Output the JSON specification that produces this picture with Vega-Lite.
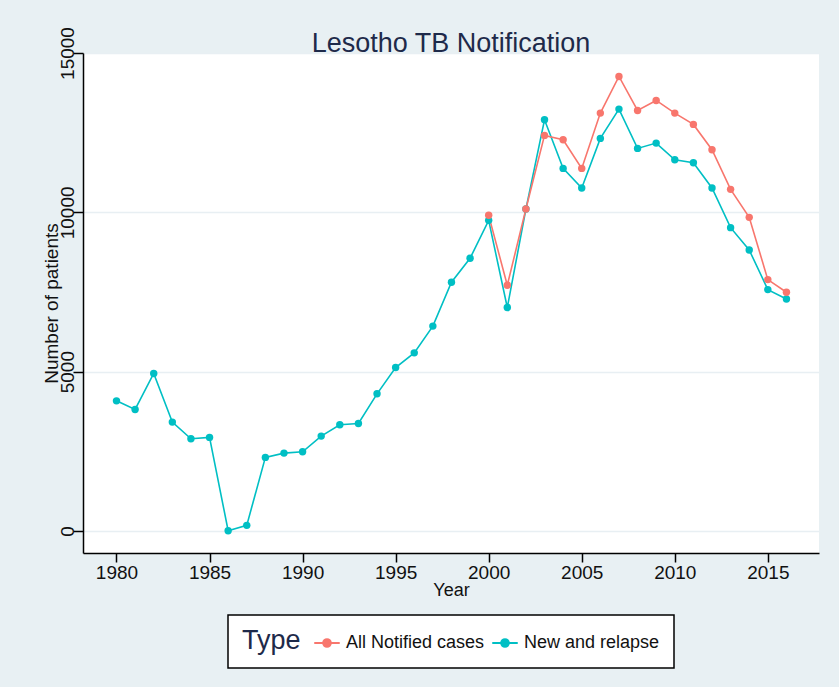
{
  "$schema": "https://vega.github.io/schema/vega-lite/v6.json",
  "autosize": {"type": "none"},
  "padding": {"left": 83, "top": 53, "right": 20, "bottom": 134},
  "width": 736,
  "height": 500,
  "background": "#e8f0f3",
  "title": {"text": "Lesotho TB Notification", "fontSize": 27, "font": "Liberation Sans", "fontWeight": "normal", "color": "#1e2a4a", "anchor": "middle", "baseline": "alphabetic", "frame": "group", "offset": -52},
  "config": {
    "view": {"fill": "white", "stroke": null},
    "font": "Liberation Sans"
  },
  "data": {"values": [
    {"Year": 1980, "Type": "New and relapse", "Patients": 4085},
    {"Year": 1981, "Type": "New and relapse", "Patients": 3815},
    {"Year": 1982, "Type": "New and relapse", "Patients": 4944},
    {"Year": 1983, "Type": "New and relapse", "Patients": 3417},
    {"Year": 1984, "Type": "New and relapse", "Patients": 2894},
    {"Year": 1985, "Type": "New and relapse", "Patients": 2937},
    {"Year": 1986, "Type": "New and relapse", "Patients": 10},
    {"Year": 1987, "Type": "New and relapse", "Patients": 178},
    {"Year": 1988, "Type": "New and relapse", "Patients": 2310},
    {"Year": 1989, "Type": "New and relapse", "Patients": 2445},
    {"Year": 1990, "Type": "New and relapse", "Patients": 2487},
    {"Year": 1991, "Type": "New and relapse", "Patients": 2978},
    {"Year": 1992, "Type": "New and relapse", "Patients": 3333},
    {"Year": 1993, "Type": "New and relapse", "Patients": 3375},
    {"Year": 1994, "Type": "New and relapse", "Patients": 4305},
    {"Year": 1995, "Type": "New and relapse", "Patients": 5131},
    {"Year": 1996, "Type": "New and relapse", "Patients": 5591},
    {"Year": 1997, "Type": "New and relapse", "Patients": 6430},
    {"Year": 1998, "Type": "New and relapse", "Patients": 7806},
    {"Year": 1999, "Type": "New and relapse", "Patients": 8558},
    {"Year": 2000, "Type": "New and relapse", "Patients": 9749},
    {"Year": 2001, "Type": "New and relapse", "Patients": 7013},
    {"Year": 2002, "Type": "New and relapse", "Patients": 10103},
    {"Year": 2003, "Type": "New and relapse", "Patients": 12906},
    {"Year": 2004, "Type": "New and relapse", "Patients": 11379},
    {"Year": 2005, "Type": "New and relapse", "Patients": 10763},
    {"Year": 2006, "Type": "New and relapse", "Patients": 12320},
    {"Year": 2007, "Type": "New and relapse", "Patients": 13239},
    {"Year": 2008, "Type": "New and relapse", "Patients": 12006},
    {"Year": 2009, "Type": "New and relapse", "Patients": 12173},
    {"Year": 2010, "Type": "New and relapse", "Patients": 11651},
    {"Year": 2011, "Type": "New and relapse", "Patients": 11557},
    {"Year": 2012, "Type": "New and relapse", "Patients": 10763},
    {"Year": 2013, "Type": "New and relapse", "Patients": 9519},
    {"Year": 2014, "Type": "New and relapse", "Patients": 8819},
    {"Year": 2015, "Type": "New and relapse", "Patients": 7575},
    {"Year": 2016, "Type": "New and relapse", "Patients": 7283},
    {"Year": 2000, "Type": "All Notified cases", "Patients": 9906},
    {"Year": 2001, "Type": "All Notified cases", "Patients": 7712},
    {"Year": 2002, "Type": "All Notified cases", "Patients": 10103},
    {"Year": 2003, "Type": "All Notified cases", "Patients": 12414},
    {"Year": 2004, "Type": "All Notified cases", "Patients": 12278},
    {"Year": 2005, "Type": "All Notified cases", "Patients": 11379},
    {"Year": 2006, "Type": "All Notified cases", "Patients": 13114},
    {"Year": 2007, "Type": "All Notified cases", "Patients": 14263},
    {"Year": 2008, "Type": "All Notified cases", "Patients": 13197},
    {"Year": 2009, "Type": "All Notified cases", "Patients": 13511},
    {"Year": 2010, "Type": "All Notified cases", "Patients": 13114},
    {"Year": 2011, "Type": "All Notified cases", "Patients": 12759},
    {"Year": 2012, "Type": "All Notified cases", "Patients": 11965},
    {"Year": 2013, "Type": "All Notified cases", "Patients": 10721},
    {"Year": 2014, "Type": "All Notified cases", "Patients": 9843},
    {"Year": 2015, "Type": "All Notified cases", "Patients": 7889},
    {"Year": 2016, "Type": "All Notified cases", "Patients": 7492}
  ]},
  "mark": {"type": "line", "strokeWidth": 1.6, "point": {"filled": true, "size": 55, "opacity": 1}},
  "encoding": {
    "x": {
      "field": "Year", "type": "quantitative",
      "scale": {"domain": [1978.2, 2017.75], "nice": false, "zero": false},
      "axis": {
        "values": [1980, 1985, 1990, 1995, 2000, 2005, 2010, 2015],
        "format": "d", "grid": false,
        "domainColor": "black", "domainWidth": 1.5,
        "tickColor": "black", "tickWidth": 1.5, "tickSize": 9,
        "labelFontSize": 19, "labelColor": "#111", "labelPadding": 1,
        "title": "Year", "titleFontSize": 18, "titleFontWeight": "normal", "titleColor": "#111",
        "titleX": 368, "titleY": 42, "titleBaseline": "alphabetic", "titleAlign": "center"
      }
    },
    "y": {
      "field": "Patients", "type": "quantitative",
      "scale": {"domain": [-690, 15000], "nice": false, "zero": false},
      "axis": {
        "values": [0, 5000, 10000, 15000],
        "format": "d", "grid": true, "gridColor": "#e8eff3", "gridWidth": 1.5,
        "domainColor": "black", "domainWidth": 1.5,
        "tickColor": "black", "tickWidth": 1.5, "tickSize": 10,
        "labelAngle": -90, "labelAlign": "center", "labelBaseline": "alphabetic",
        "labelFontSize": 19, "labelColor": "#111", "labelPadding": 0,
        "title": "Number of patients", "titleFontSize": 19, "titleFontWeight": "normal", "titleColor": "#111",
        "titleAngle": -90, "titleX": -26, "titleY": 250, "titleAlign": "center", "titleBaseline": "alphabetic"
      }
    },
    "color": {
      "field": "Type", "type": "nominal",
      "scale": {"domain": ["All Notified cases", "New and relapse"], "range": ["#f8766d", "#00bfc4"]},
      "legend": {
        "orient": "none", "legendX": 145, "legendY": 562,
        "direction": "horizontal", "titleOrient": "left",
        "title": "Type", "titleFontSize": 27, "titleFontWeight": "normal", "titleColor": "#1e2a4a",
        "titlePadding": 12,
        "labelFontSize": 18, "labelColor": "#111", "labelOffset": 5,
        "symbolType": "M-1,0H1M-0.3,0A0.3,0.3 0 1,1 0.3,0A0.3,0.3 0 1,1 -0.3,0",
        "symbolSize": 650, "symbolStrokeWidth": 2, "symbolOpacity": 1,
        "columnPadding": 3,
        "padding": 14, "strokeColor": "black", "fillColor": "white",
        "cornerRadius": 0,
        "encode": {
          "legend": {"update": {"strokeWidth": {"value": 1.5}}},
          "symbols": {"update": {"fill": {"scale": "color", "field": "value"}}}
        }
      }
    }
  }
}
